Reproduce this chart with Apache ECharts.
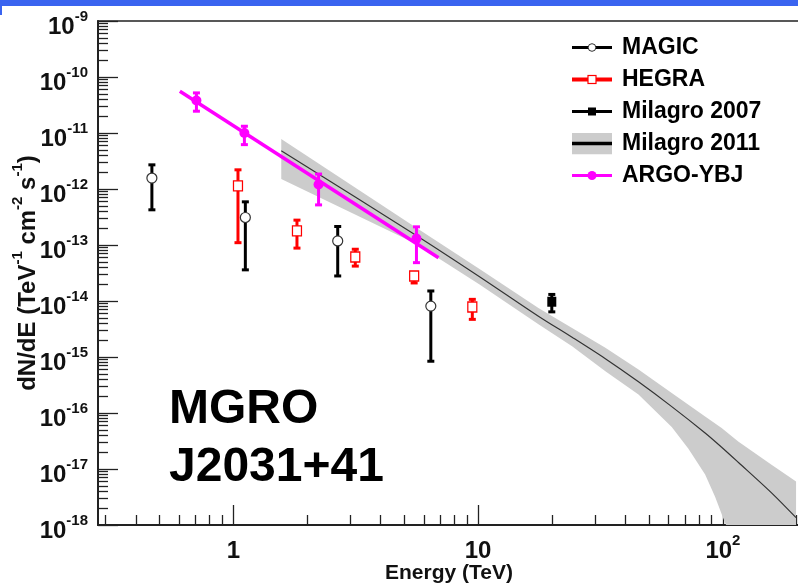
<!DOCTYPE html>
<html><head><meta charset="utf-8">
<script src="https://cdn.jsdelivr.net/npm/echarts@6/dist/echarts.min.js"></script>
<style>html,body{margin:0;padding:0;background:#fff;overflow:hidden}#c{width:798px;height:586px}</style>
</head><body><div id="c"></div>
<script>
// ---------------- data ----------------
const magicE  = [0.465, 1.12, 2.67, 6.41];
const magicF  = [1.57e-12, 3.1e-13, 1.18e-13, 8.1e-15];
const magicLo = [4.25e-13, 3.6e-14, 2.8e-14, 8.4e-16];
const magicHi = [2.7e-12, 5.9e-13, 2.14e-13, 1.51e-14];

const hegraE  = [1.045, 1.82, 3.15, 5.48, 9.47];
const hegraF  = [1.14e-12, 1.79e-13, 6.1e-14, 2.8e-14, 7.8e-15];
const hegraLo = [1.1e-13, 8.8e-14, 4.2e-14, 2.1e-14, 4.7e-15];
const hegraHi = [2.2e-12, 2.78e-13, 8.4e-14, 3.2e-14, 1.07e-14];

const mil07E  = [20];
const mil07F  = [9.7e-15];
const mil07Lo = [6.4e-15];
const mil07Hi = [1.31e-14];

const mil11E = [1.57, 5.57, 10.1, 17.7, 24.2, 33.1, 45.2, 61.8, 84.6, 98.8, 115.5, 158, 199];
const mil11F = [4.84e-12, 1.5e-13, 2.75e-14, 5.3e-15, 2.25e-15, 9.3e-16, 3.6e-16, 1.3e-16, 4.4e-17, 2.45e-17, 1.32e-17, 3.75e-18, 1.35e-18];

const bandUpperE = [1.57, 5.57, 10.1, 17.7, 24.2, 33.1, 45.2, 61.8, 84.6, 98.8, 115.5, 158, 199];
const bandUpperF = [7.83e-12, 2.05e-13, 3.75e-14, 7.4e-15, 3.3e-15, 1.46e-15, 5.97e-16, 2.27e-16, 8.7e-17, 5.37e-17, 3.1e-17, 1.19e-17, 5.97e-18];
const bandLowerE = [1.57, 5.57, 10.1, 17.7, 24.2, 33.1, 45.2, 61.8, 72.3, 84.6, 92.9, 100.4, 103, 199];
const bandLowerF = [1.51e-12, 1.05e-13, 2.0e-14, 3.82e-15, 1.56e-15, 5.57e-16, 2.13e-16, 5.6e-17, 2.3e-17, 8.0e-18, 3.2e-18, 1.3e-18, 1e-18, 1e-18];

const argoE  = [0.707, 1.11, 2.23, 5.6];
const argoF  = [3.8e-11, 1.0e-11, 1.2e-12, 1.3e-13];
const argoLo = [2.45e-11, 6.2e-12, 5.2e-13, 4.84e-14];
const argoHi = [5.2e-11, 1.32e-11, 1.85e-12, 2.11e-13];
const argoFitE = [0.605, 6.89];
const argoFitF = [5.58e-11, 5.94e-14];

const legendNames = ['MAGIC', 'HEGRA', 'Milagro 2007', 'Milagro 2011', 'ARGO-YBJ'];

const xTickValues = [1, 10, 100];
const xTickLabels = ['1', '10', '10^2'];
const xMinorTicks = [0.3,0.4,0.5,0.6,0.7,0.8,0.9, 2,3,4,5,6,7,8,9, 20,30,40,50,60,70,80,90, 200];
const yTickValues = [1e-18,1e-17,1e-16,1e-15,1e-14,1e-13,1e-12,1e-11,1e-10,1e-9];
const yTickLabels = ['10^-18','10^-17','10^-16','10^-15','10^-14','10^-13','10^-12','10^-11','10^-10','10^-9'];
const yMinorTicks = [];
for (let k = -18; k < -9; k++) for (let m = 2; m <= 9; m++) yMinorTicks.push(m * Math.pow(10, k));

const annotation = 'MGRO\nJ2031+41';
// -----------------------------------------------------------------

const FONT = '"Liberation Sans", Arial, Helvetica, sans-serif';
const pairs = (a, b) => a.map((v, i) => [v, b[i]]);
const errData = (e, f, lo, hi) => e.map((v, i) => [v, f[i], lo[i], hi[i]]);

function supLabel(s) {
  const p = s.split('^');
  return p.length > 1 ? '{b|' + p[0] + '}{s|' + p[1] + '}' : '{b|' + p[0] + '}';
}
function labelFor(values, labels) {
  return function (v) {
    const i = values.findIndex(t => Math.abs(Math.log10(t) - Math.log10(v)) < 1e-6);
    return i >= 0 ? supLabel(labels[i]) : '';
  };
}
const richLab = {
  b: { fontSize: 24, fontWeight: 'bold', color: '#111', fontFamily: FONT, lineHeight: 30, verticalAlign: 'bottom' },
  s: { fontSize: 15, fontWeight: 'bold', color: '#111', fontFamily: FONT, lineHeight: 16, verticalAlign: 'top' }
};

function errRender(color, lw, capW) {
  return function (params, api) {
    const x = api.value(0);
    const pLo = api.coord([x, api.value(2)]);
    const pHi = api.coord([x, api.value(3)]);
    return {
      type: 'group',
      children: [
        { type: 'line', shape: { x1: pLo[0], y1: pLo[1], x2: pHi[0], y2: pHi[1] }, style: { stroke: color, lineWidth: lw } },
        { type: 'rect', shape: { x: pLo[0] - capW / 2, y: pLo[1] - 1.5, width: capW, height: 3 }, style: { fill: color } },
        { type: 'rect', shape: { x: pHi[0] - capW / 2, y: pHi[1] - 1.5, width: capW, height: 3 }, style: { fill: color } }
      ]
    };
  };
}

function svgIcon(inner) {
  return 'image://data:image/svg+xml;charset=utf-8,' + encodeURIComponent(
    '<svg xmlns="http://www.w3.org/2000/svg" width="40" height="22" viewBox="0 0 40 22">' + inner + '</svg>');
}
const legendIcons = {
  'MAGIC': svgIcon('<line x1="0" y1="11" x2="40" y2="11" stroke="#000" stroke-width="3"/><circle cx="20" cy="11" r="3.8" fill="#fff" stroke="#333" stroke-width="1"/>'),
  'HEGRA': svgIcon('<line x1="0" y1="11" x2="40" y2="11" stroke="#f00" stroke-width="4"/><rect x="16" y="7" width="8" height="8" fill="#fff" stroke="#f00" stroke-width="1.2"/>'),
  'Milagro 2007': svgIcon('<line x1="0" y1="11" x2="40" y2="11" stroke="#000" stroke-width="3"/><rect x="16" y="7" width="8" height="8" fill="#000"/>'),
  'Milagro 2011': svgIcon('<rect x="0" y="0" width="40" height="22" fill="#cccccc"/><line x1="0" y1="11" x2="40" y2="11" stroke="#000" stroke-width="3.5"/>'),
  'ARGO-YBJ': svgIcon('<line x1="0" y1="11" x2="40" y2="11" stroke="#f0f" stroke-width="3"/><circle cx="20" cy="11" r="4.5" fill="#f0f"/>')
};

const X_MIN = 0.2801, X_MAX = 206.5, Y_MIN = 1e-18, Y_MAX = 1e-9;

const chart = echarts.init(document.getElementById('c'), null, { renderer: 'canvas' });
chart.setOption({
  animation: false,
  backgroundColor: '#fff',
  textStyle: { fontFamily: FONT },
  grid: { left: 98, right: -2, top: 21, bottom: 61, show: true, borderColor: '#222', borderWidth: 1.5, outerBoundsMode: 'none', containLabel: false },
  legend: {
    orient: 'vertical', left: 572, top: 36, padding: 0, itemWidth: 40, itemHeight: 22, itemGap: 9,
    selectedMode: false,
    textStyle: { fontSize: 23, fontWeight: 'bold', color: '#000', fontFamily: FONT, padding: [0, 0, 0, 5] },
    data: legendNames.map(n => ({ name: n, icon: legendIcons[n] }))
  },
  xAxis: [{
    type: 'log', logBase: 10, min: X_MIN, max: X_MAX, position: 'bottom',
    name: 'Energy (TeV)', nameLocation: 'middle', nameGap: 38, nameMoveOverlap: false,
    nameTextStyle: { fontSize: 21, fontWeight: 'bold', color: '#111', fontFamily: FONT },
    axisLine: { show: true, onZero: false, lineStyle: { color: '#222', width: 2 } },
    axisTick: { show: true, inside: true, length: 20, customValues: xTickValues, lineStyle: { color: '#222', width: 1.3 } },
    axisLabel: { show: true, margin: 8, customValues: xTickValues, formatter: labelFor(xTickValues, xTickLabels), rich: richLab },
    splitLine: { show: false }, minorTick: { show: false }
  }, {
    type: 'log', logBase: 10, min: X_MIN, max: X_MAX, position: 'bottom', gridIndex: 0,
    axisLine: { show: false, onZero: false },
    axisTick: { show: true, inside: true, length: 10, customValues: xMinorTicks, lineStyle: { color: '#222', width: 1.3 } },
    axisLabel: { show: false }, splitLine: { show: false }
  }],
  yAxis: [{
    type: 'log', logBase: 10, min: Y_MIN, max: Y_MAX, position: 'left',
    name: '{n|dN/dE (TeV}{s|-1}{n| cm}{s|-2}{n| s}{s|-1}{n|)}', nameLocation: 'middle', nameRotate: 90, nameGap: 58, nameMoveOverlap: false,
    nameTextStyle: {
      color: '#111', fontFamily: FONT,
      rich: {
        n: { fontSize: 24, fontWeight: 'bold', color: '#111', fontFamily: FONT, lineHeight: 30, verticalAlign: 'bottom' },
        s: { fontSize: 15, fontWeight: 'bold', color: '#111', fontFamily: FONT, lineHeight: 16, verticalAlign: 'top' }
      }
    },
    axisLine: { show: true, onZero: false, lineStyle: { color: '#222', width: 2 } },
    axisTick: { show: true, inside: true, length: 20, customValues: yTickValues, lineStyle: { color: '#222', width: 1.3 } },
    axisLabel: { show: true, margin: 10, customValues: yTickValues, formatter: labelFor(yTickValues, yTickLabels), rich: richLab, padding: [6, 0, 0, 0] },
    splitLine: { show: false }, minorTick: { show: false }
  }, {
    type: 'log', logBase: 10, min: Y_MIN, max: Y_MAX, position: 'left', gridIndex: 0,
    axisLine: { show: false, onZero: false },
    axisTick: { show: true, inside: true, length: 10, customValues: yMinorTicks, lineStyle: { color: '#222', width: 1.3 } },
    axisLabel: { show: false }, splitLine: { show: false }
  }],
  graphic: [
    { type: 'rect', left: 0, top: 0, shape: { width: 798, height: 6 }, style: { fill: '#3a64f0' }, z: 100 },
    { type: 'rect', left: 0, top: 6, shape: { width: 2, height: 9 }, style: { fill: '#3a64f0' }, z: 100 },
    { type: 'text', left: 169, top: 381, z: 100,
      style: { text: annotation, font: 'bold 48px ' + FONT, lineHeight: 58, fill: '#000' } }
  ],
  series: [
    {
      name: 'Milagro 2011', type: 'custom', xAxisIndex: 0, yAxisIndex: 0, clip: true, silent: true, z: 1,
      data: pairs(bandUpperE, bandUpperF), encode: { x: 0, y: 1 },
      renderItem: function (params, api) {
        if (params.dataIndex !== 0) return null;
        const up = pairs(bandUpperE, bandUpperF).map(p => api.coord(p));
        const lo = pairs(bandLowerE, bandLowerF).reverse().map(p => api.coord(p));
        return { type: 'polygon', shape: { points: up.concat(lo) }, style: { fill: '#cccccc' } };
      }
    },
    {
      name: 'Milagro 2011', type: 'line', xAxisIndex: 0, yAxisIndex: 0, z: 2, clip: true,
      data: pairs(mil11E, mil11F), symbol: 'none', smooth: 0.3,
      lineStyle: { color: '#333', width: 1.2 }
    },
    { name: 'MAGIC', type: 'custom', z: 3, data: errData(magicE, magicF, magicLo, magicHi), encode: { x: 0, y: [1, 2, 3] }, renderItem: errRender('#000', 3, 7) },
    { name: 'MAGIC', type: 'scatter', z: 4, data: pairs(magicE, magicF), symbol: 'circle', symbolSize: 10,
      itemStyle: { color: '#fff', borderColor: '#333', borderWidth: 1.2, opacity: 1 } },
    { name: 'HEGRA', type: 'custom', z: 3, data: errData(hegraE, hegraF, hegraLo, hegraHi), encode: { x: 0, y: [1, 2, 3] }, renderItem: errRender('#f00', 3, 7) },
    { name: 'HEGRA', type: 'scatter', z: 4, data: pairs(hegraE, hegraF), symbol: 'rect', symbolSize: [9, 10],
      itemStyle: { color: '#fff', borderColor: '#f00', borderWidth: 1.3, opacity: 1 } },
    { name: 'Milagro 2007', type: 'custom', z: 3, data: errData(mil07E, mil07F, mil07Lo, mil07Hi), encode: { x: 0, y: [1, 2, 3] }, renderItem: errRender('#000', 3, 7) },
    { name: 'Milagro 2007', type: 'scatter', z: 4, data: pairs(mil07E, mil07F), symbol: 'rect', symbolSize: [9, 10],
      itemStyle: { color: '#000', opacity: 1 } },
    {
      name: 'ARGO-YBJ', type: 'line', z: 5, data: pairs(argoFitE, argoFitF), symbol: 'none',
      lineStyle: { color: '#ff00ff', width: 3.5 }
    },
    { name: 'ARGO-YBJ', type: 'custom', z: 5, data: errData(argoE, argoF, argoLo, argoHi), encode: { x: 0, y: [1, 2, 3] }, renderItem: errRender('#ff00ff', 3, 7) },
    { name: 'ARGO-YBJ', type: 'scatter', z: 6, data: pairs(argoE, argoF), symbol: 'circle', symbolSize: 10,
      itemStyle: { color: '#ff00ff', opacity: 1 } }
  ]
});
</script></body></html>
